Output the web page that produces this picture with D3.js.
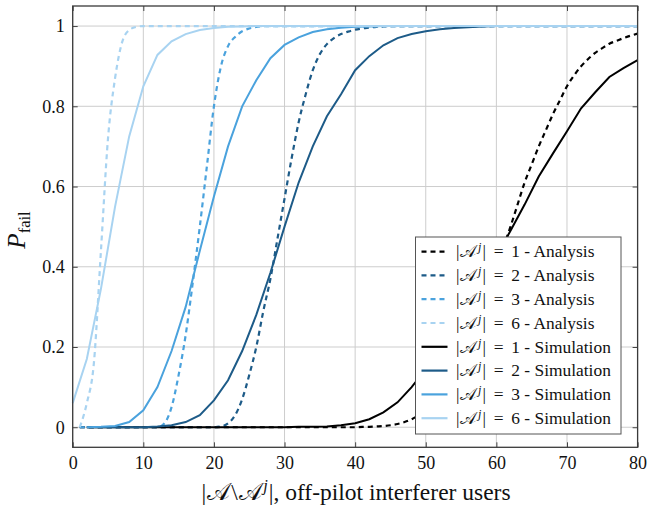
<!DOCTYPE html>
<html>
<head>
<meta charset="utf-8">
<script src="https://cdn.jsdelivr.net/npm/d3@7"></script>
<style>
  body { margin: 0; background: #fff; }
  svg { display: block; }
  text { font-family: "Liberation Serif", "Times New Roman", "DejaVu Serif", serif; fill: #111; }
</style>
</head>
<body>
<svg id="chart" width="648" height="511"></svg>
<script>
// Simulation samples (every 2 interferers)
const simX = [0,2,4,6,8,10,12,14,16,18,20,22,24,26,28,30,32,34,36,38,40,42,44,46,48,50,52,54,56,58,60,62,64,66,68,70,72,74,76,78,80];
const sim1 = [null,0,0,0,0,0,0,0,0,0,0,0,0,0,0,0,0.001,0.001,0.002,0.005,0.01,0.02,0.037,0.062,0.10,0.145,0.195,0.25,0.305,0.365,0.425,0.49,0.555,0.625,0.682,0.738,0.795,0.835,0.873,0.895,0.915];
const sim2 = [null,0,0,0,0,0,0.002,0.005,0.013,0.03,0.067,0.117,0.19,0.28,0.385,0.50,0.61,0.70,0.775,0.83,0.89,0.925,0.952,0.97,0.98,0.987,0.992,0.995,0.997,0.999,1,1,1,1,1,1,1,1,1,1,1];
const sim3 = [null,0,0.001,0.003,0.013,0.042,0.10,0.19,0.30,0.44,0.575,0.70,0.80,0.865,0.92,0.953,0.972,0.985,0.992,0.996,0.998,0.999,1,1,1,1,1,1,1,1,1,1,1,1,1,1,1,1,1,1,1];
const sim6 = [0.06,0.17,0.345,0.55,0.725,0.85,0.928,0.962,0.98,0.99,0.995,0.998,0.999,1,1,1,1,1,1,1,1,1,1,1,1,1,1,1,1,1,1,1,1,1,1,1,1,1,1,1,1];

// Analytical curves (one value per interferer count, 1..80)
const anaX = [1,2,3,4,5,6,7,8,9,10,11,12,13,14,15,16,17,18,19,20,21,22,23,24,25,26,27,28,29,30,31,32,33,34,35,36,37,38,39,40,41,42,43,44,45,46,47,48,49,50,51,52,53,54,55,56,57,58,59,60,61,62,63,64,65,66,67,68,69,70,71,72,73,74,75,76,77,78,79,80];
const ana1 = [0,0,0,0,0,0,0,0,0,0,0,0,0,0,0,0,0,0,0,0,0,0,0,0,0,0,0,0,0,0,0,0,0,0,0,0,0,0,0,0,0.001,0.001,0.002,0.003,0.005,0.008,0.013,0.02,0.03,0.045,0.06,0.08,0.105,0.135,0.17,0.21,0.255,0.30,0.35,0.40,0.45,0.50,0.555,0.61,0.655,0.70,0.74,0.78,0.815,0.85,0.877,0.90,0.918,0.933,0.945,0.956,0.963,0.970,0.976,0.981];
const ana2 = [0,0,0,0,0,0,0,0,0,0,0,0,0,0,0,0,0,0,0,0,0.002,0.01,0.03,0.07,0.13,0.20,0.29,0.37,0.47,0.57,0.67,0.76,0.83,0.89,0.93,0.955,0.97,0.98,0.986,0.991,0.994,0.996,0.998,0.999,1,1,1,1,1,1,1,1,1,1,1,1,1,1,1,1,1,1,1,1,1,1,1,1,1,1,1,1,1,1,1,1,1,1,1,1];
const ana3 = [0,0,0,0,0,0,0,0,0,0,0,0,0.01,0.05,0.13,0.23,0.36,0.50,0.65,0.80,0.90,0.95,0.973,0.987,0.994,0.998,1,1,1,1,1,1,1,1,1,1,1,1,1,1,1,1,1,1,1,1,1,1,1,1,1,1,1,1,1,1,1,1,1,1,1,1,1,1,1,1,1,1,1,1,1,1,1,1,1,1,1,1,1,1];
const ana6 = [0,0.06,0.16,0.44,0.72,0.87,0.96,0.99,0.998,1,1,1,1,1,1,1,1,1,1,1,1,1,1,1,1,1,1,1,1,1,1,1,1,1,1,1,1,1,1,1,1,1,1,1,1,1,1,1,1,1,1,1,1,1,1,1,1,1,1,1,1,1,1,1,1,1,1,1,1,1,1,1,1,1,1,1,1,1,1,1];

const groupSizes = ["1", "2", "3", "6"];
const xTicks = [0, 10, 20, 30, 40, 50, 60, 70, 80];
const yTicks = [0, 0.2, 0.4, 0.6, 0.8, 1];
const colors = ["#000000", "#1d5b88", "#4aa2dd", "#a8d3f1"];
const SERIF = '"Liberation Serif", "Times New Roman", "DejaVu Serif", serif';

const svg = d3.select("#chart");
const L = 72.7, R = 637.6, T = 6, B = 447.3;

const x = d3.scaleLinear().domain([0, 80]).range([L, R]);
const y = d3.scaleLinear().domain([-0.05, 1.05]).range([B, T]);

// grid
const grid = svg.append("g").attr("stroke", "#cdcdcd").attr("stroke-width", 1);
xTicks.forEach(t => grid.append("line").attr("x1", x(t)).attr("x2", x(t)).attr("y1", T).attr("y2", B));
yTicks.forEach(t => grid.append("line").attr("x1", L).attr("x2", R).attr("y1", y(t)).attr("y2", y(t)));

// axes with inward ticks on all four sides
const fmt = d => d3.format("~g")(d);
const axB = svg.append("g").attr("transform", `translate(0,${B})`)
  .call(d3.axisBottom(x).tickValues(xTicks).tickSizeInner(-5).tickSizeOuter(0).tickPadding(9).tickFormat(fmt));
const axT = svg.append("g").attr("transform", `translate(0,${T})`)
  .call(d3.axisTop(x).tickValues(xTicks).tickSizeInner(-5).tickSizeOuter(0).tickFormat(""));
const axL = svg.append("g").attr("transform", `translate(${L},0)`)
  .call(d3.axisLeft(y).tickValues(yTicks).tickSizeInner(-5).tickSizeOuter(0).tickPadding(8).tickFormat(fmt));
const axR = svg.append("g").attr("transform", `translate(${R},0)`)
  .call(d3.axisRight(y).tickValues(yTicks).tickSizeInner(-5).tickSizeOuter(0).tickFormat(""));
[axB, axT, axL, axR].forEach(a => {
  a.attr("font-family", SERIF).attr("font-size", 18);
  a.select(".domain").remove();
  a.selectAll(".tick line").attr("stroke", "#444");
  a.selectAll(".tick text").attr("fill", "#111");
});

// curves
const line = d3.line().defined(d => d[1] != null).x(d => x(d[0])).y(d => y(d[1]));
const zip = (xs, ys) => xs.map((v, i) => [v, ys[i]]);
const ana = [ana1, ana2, ana3, ana6];
const sim = [sim1, sim2, sim3, sim6];

const plot = svg.append("g");
ana.forEach((ys, i) => {
  plot.append("path").attr("d", line.curve(d3.curveMonotoneX)(zip(anaX, ys)))
    .attr("fill", "none").attr("stroke", colors[i]).attr("stroke-width", 2.2)
    .attr("stroke-dasharray", "5,4");
});
sim.forEach((ys, i) => {
  plot.append("path").attr("d", line.curve(d3.curveLinear)(zip(simX, ys)))
    .attr("fill", "none").attr("stroke", colors[i]).attr("stroke-width", 2);
});

// frame
svg.append("rect").attr("x", L).attr("y", T).attr("width", R - L).attr("height", B - T)
  .attr("fill", "none").attr("stroke", "#3a3a3a").attr("stroke-width", 1.3);

// |A^j| = n - kind
function setLabel(t, n, kind) {
  t.append("tspan").text("|");
  t.append("tspan").attr("dx", 1).text("𝒜");
  t.append("tspan").attr("font-style", "italic").attr("font-size", "0.7em").attr("dx", 1.5).attr("dy", -6).text("j");
  t.append("tspan").attr("dx", 1).attr("dy", 6).text(`|\u2009 = \u2009${n} - ${kind}`);
}

// legend
const lg = svg.append("g");
lg.append("rect").attr("x", 415.5).attr("y", 237).attr("width", 205.5).attr("height", 197)
  .attr("fill", "#fff").attr("stroke", "#555").attr("stroke-width", 1);
const entries = [];
groupSizes.forEach((g, i) => entries.push({ n: g, kind: "Analysis", color: colors[i], dash: "5,4" }));
groupSizes.forEach((g, i) => entries.push({ n: g, kind: "Simulation", color: colors[i], dash: null }));
entries.forEach((e, i) => {
  const cy = 251.6 + i * 23.8;
  lg.append("line").attr("x1", 421.5).attr("x2", 447.5).attr("y1", cy).attr("y2", cy)
    .attr("stroke", e.color).attr("stroke-width", 2.2).attr("stroke-dasharray", e.dash);
  const t = lg.append("text").attr("x", 456).attr("y", cy + 5.8).attr("font-size", 17.4);
  setLabel(t, e.n, e.kind);
});

// axis titles
const xl = svg.append("text").attr("x", 356).attr("y", 500).attr("text-anchor", "middle").attr("font-size", 23.5);
xl.append("tspan").text("|");
xl.append("tspan").attr("dx", 1).text("𝒜");
xl.append("tspan").attr("dx", 1).text("\\");
xl.append("tspan").attr("dx", 1).text("𝒜");
xl.append("tspan").attr("font-style", "italic").attr("font-size", "0.7em").attr("dx", 1.5).attr("dy", -9).text("j");
xl.append("tspan").attr("dx", 1).attr("dy", 9).text("|, off-pilot interferer users");

const yl = svg.append("text").attr("transform", "translate(25,230) rotate(-90)")
  .attr("text-anchor", "middle").attr("font-size", 25);
yl.append("tspan").attr("font-style", "italic").text("P");
yl.append("tspan").attr("font-size", "0.66em").attr("dy", 5).text("fail");
</script>
</body>
</html>
